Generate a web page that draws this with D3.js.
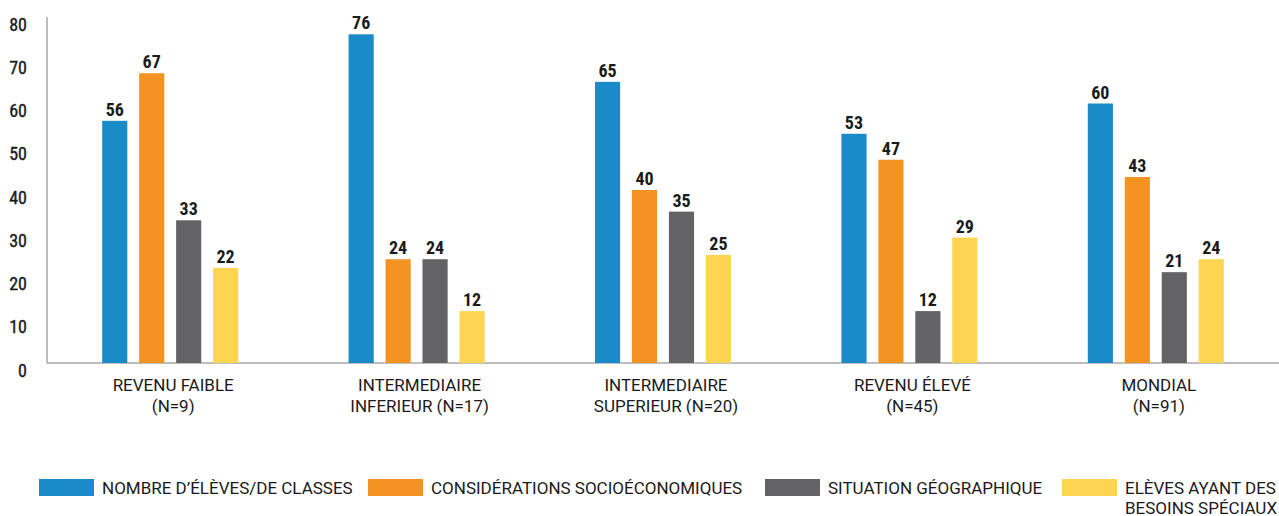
<!DOCTYPE html>
<html>
<head>
<meta charset="utf-8">
<script src="https://cdn.jsdelivr.net/npm/d3@7"></script>
<style>
  body { margin: 0; background: #fff; }
  svg text { fill: #1a1a1a; }
  .narrow { font-family: "Liberation Sans Narrow", "Roboto Condensed", "DejaVu Sans Condensed", sans-serif; }
  .cat { font-family: Roboto, "Liberation Sans", Arial, sans-serif; }
</style>
</head>
<body>
<div id="chart"></div>
<script>
// categories and series
var categories = [
  ["REVENU FAIBLE", "(N=9)"],
  ["INTERMEDIAIRE", "INFERIEUR (N=17)"],
  ["INTERMEDIAIRE", "SUPERIEUR (N=20)"],
  ["REVENU ÉLEVÉ", "(N=45)"],
  ["MONDIAL", "(N=91)"]
];
var seriesNames = [
  ["NOMBRE D\u2019ÉLÈVES/DE CLASSES"],
  ["CONSIDÉRATIONS SOCIOÉCONOMIQUES"],
  ["SITUATION GÉOGRAPHIQUE"],
  ["ELÈVES AYANT DES", "BESOINS SPÉCIAUX"]
];
var eleves = [56, 76, 65, 53, 60];
var socio = [67, 24, 40, 47, 43];
var geo = [33, 24, 35, 12, 21];
var besoins = [22, 12, 25, 29, 24];
var yTicks = [0, 10, 20, 30, 40, 50, 60, 70, 80];

var colors = ["#1a8ac9", "#f39322", "#636365", "#fed552"];
var series = [eleves, socio, geo, besoins];

var width = 1279, height = 516;
var margin = {top: 17, right: 0, bottom: 153, left: 47};

var svg = d3.select("#chart").append("svg")
  .attr("width", width).attr("height", height);

var x0 = d3.scaleBand()
  .domain(d3.range(categories.length))
  .range([margin.left, width]);
var groupW = 136;
var x1 = d3.scaleBand()
  .domain(d3.range(series.length))
  .range([0, groupW])
  .paddingInner(0.32);
var y = d3.scaleLinear()
  .domain([0, 80])
  .range([height - margin.bottom, margin.top]);

// axes lines
svg.append("line")
  .attr("x1", margin.left).attr("x2", margin.left)
  .attr("y1", y(80)).attr("y2", y(0))
  .attr("stroke", "#a8a8a8").attr("stroke-width", 1.5);
svg.append("line")
  .attr("x1", margin.left).attr("x2", width)
  .attr("y1", y(0)).attr("y2", y(0))
  .attr("stroke", "#a8a8a8").attr("stroke-width", 1.5);

// y tick labels
svg.append("g").selectAll("text")
  .data(yTicks).enter().append("text")
  .attr("class", "narrow")
  .attr("x", 27)
  .attr("y", function(d) { return y(d) + 13.5; })
  .attr("text-anchor", "end")
  .style("font-size", "18px")
  .style("stroke", "#1a1a1a")
  .style("stroke-width", "0.35px")
  .text(function(d) { return d; });

// bars
var groups = svg.append("g").selectAll("g")
  .data(categories).enter().append("g")
  .attr("transform", function(d, i) {
    return "translate(" + (x0(i) + (x0.bandwidth() - groupW) / 2) + ",0)";
  });

groups.each(function(c, i) {
  var g = d3.select(this);
  var vals = series.map(function(s) { return s[i]; });
  g.selectAll("rect").data(vals).enter().append("rect")
    .attr("x", function(d, j) { return x1(j); })
    .attr("y", function(d) { return y(d); })
    .attr("width", x1.bandwidth())
    .attr("height", function(d) { return y(0) - y(d); })
    .attr("fill", function(d, j) { return colors[j]; });
  g.selectAll("text.val").data(vals).enter().append("text")
    .attr("class", "val narrow")
    .attr("x", function(d, j) { return x1(j) + x1.bandwidth() / 2; })
    .attr("y", function(d) { return y(d) - 5; })
    .attr("text-anchor", "middle")
    .style("font-size", "18px")
    .style("font-weight", "bold")
    .text(function(d) { return d; });
});

// category labels
svg.append("g").selectAll("text")
  .data(categories).enter().append("text")
  .attr("class", "cat")
  .attr("x", function(d, i) { return x0(i) + x0.bandwidth() / 2 + 3; })
  .attr("y", 391)
  .attr("text-anchor", "middle")
  .style("font-size", "17px")
  .each(function(d) {
    var t = d3.select(this);
    d.forEach(function(line, k) {
      t.append("tspan")
        .attr("x", t.attr("x"))
        .attr("dy", k === 0 ? 0 : 21)
        .text(line);
    });
  });

// legend
var legendX = [39, 368, 765, 1062];
var legend = svg.append("g").selectAll("g")
  .data(seriesNames).enter().append("g")
  .attr("transform", function(d, i) { return "translate(" + legendX[i] + ",479)"; });
legend.append("rect")
  .attr("width", 55).attr("height", 17)
  .attr("fill", function(d, i) { return colors[i]; });
legend.append("text")
  .attr("class", "cat")
  .attr("y", 15)
  .style("font-size", "17px")
  .each(function(d) {
    var t = d3.select(this);
    d.forEach(function(line, k) {
      t.append("tspan")
        .attr("x", 63)
        .attr("dy", k === 0 ? 0 : 20)
        .text(line);
    });
  });
</script>
</body>
</html>
